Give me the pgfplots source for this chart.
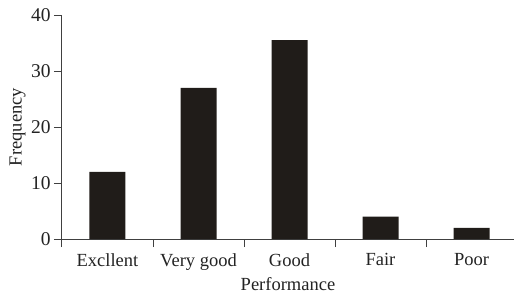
\documentclass[border=0pt]{standalone}
\usepackage{pgfplots}
\pgfplotsset{compat=1.18}
\usepackage{fontspec}
\setmainfont{Liberation Serif}
\definecolor{barc}{RGB}{32,28,25}
\definecolor{txt}{RGB}{35,35,35}
\begin{document}
\fontsize{18.5}{22}\selectfont
\begin{tikzpicture}
\begin{axis}[
  scale only axis, width=452pt, height=224pt,
  xmin=-0.5, xmax=4.467, ymin=0, ymax=40,
  axis lines*=left,
  axis line style={draw=black!75, line width=1pt},
  ytick={0,10,20,30,40},
  xtick={0,1,2,3,4},
  xticklabels={Excllent,Very good,Good,Fair,Poor},
  major x tick style={draw=none},
  minor xtick={-0.5,0.5,1.5,2.5,3.5},
  tick align=outside,
  major tick length=8pt, minor tick length=8pt,
  tick style={draw=black!75, line width=1pt},
  /pgf/number format/assume math mode=true,
  xticklabel style={font=\fontsize{18.5}{22}\selectfont, text=txt},
  yticklabel style={font=\fontsize{19.5}{22}\selectfont, text=txt, xshift=3pt},
  label style={font=\fontsize{18.5}{22}\selectfont, text=txt},
  xlabel=Performance, ylabel=Frequency,
  xlabel shift=-5pt,
  ylabel shift=-7pt,
]
\addplot[ybar, bar width=36pt, fill=barc, draw=none] coordinates {(0,12) (1,27) (2,35.5) (3,4) (4,2)};
\end{axis}
\pgfresetboundingbox
\path (current axis.south west) ++(-62pt,-56pt) rectangle ++(514pt,295pt);
\end{tikzpicture}
\end{document}
